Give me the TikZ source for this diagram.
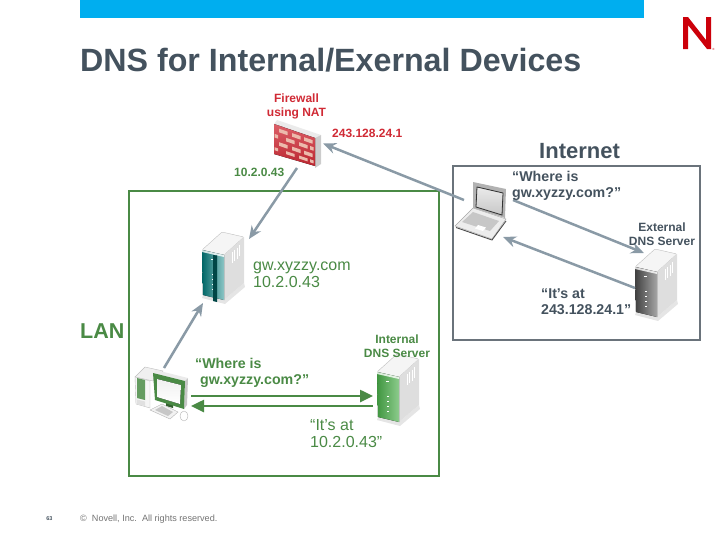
\documentclass[tikz,border=0pt]{standalone}
\usepackage{fontspec}
\setmainfont{Liberation Sans}
\usetikzlibrary{arrows.meta}
\definecolor{novell-blue}{RGB}{0,174,239}
\definecolor{novell-red}{RGB}{204,0,10}
\definecolor{slate}{RGB}{68,82,94}
\definecolor{lan-green}{RGB}{74,138,69}
\definecolor{wall-red}{RGB}{208,42,53}
\definecolor{link-gray}{RGB}{138,154,166}
\definecolor{box-gray}{RGB}{106,115,123}
\definecolor{brick}{RGB}{236,186,172}

\tikzset{
  iconbox/.style={inner sep=0pt, outer sep=0pt},
  label/.style={inner sep=0pt, anchor=west, align=left},
  tag/.style={inner sep=0pt, align=center, font=\fontsize{12}{14}\selectfont\bfseries},
  quote/.style={label, font=\fontsize{14.2}{16}\selectfont\bfseries},
  plain/.style={label, font=\fontsize{16}{17}\selectfont},
  wan/.style={line width=2.5pt, link-gray, -{Stealth[length=13pt,width=11pt]}},
  lanlink/.style={line width=2.5pt, lan-green, -{Triangle[length=13pt,width=12pt]}}
}

% server box, #1 #2 = top left of front face, #3 #4 = front colours
\newcommand{\serverbox}[4]{
  \begin{scope}[shift={(#1,#2)}]
    \fill[black!10] (1,45) -- (22,50) -- (42,33) -- (43,37) -- (23,54) -- (0,48) -- cycle;
    \fill[black!4, draw=black!25, line width=.4pt, rounded corners=1pt] (0,0) -- (20,-18) -- (42,-13) -- (22,5) -- cycle;
    \fill[black!13] (22,5) -- (42,-13) -- (42,33) -- (22,50) -- cycle;
    \foreach \s in {0,2.5,5,7.5}
      \draw[white, line width=1pt] ({30+\s},{2-\s*0.9}) -- ++(0,11);
    \fill[left color=#3, right color=#4] (0,0) -- (22,5) -- (22,50) -- (1,45) -- cycle;
    \fill[white, opacity=.8] (0,0) -- (22,5) -- (22,7) -- (0,2) -- cycle;
    \foreach \s in {24,29,34,39}
      \fill[white] (10,\s) rectangle (12,{\s+1});
    \fill[white] (9,9) rectangle (12,10.2);
  \end{scope}
}

\begin{document}
\begin{tikzpicture}[x=1pt, y=-1pt]
  \useasboundingbox (0,0) rectangle (728,546);

  % header
  \fill[novell-blue] (80,0) rectangle (644,18);
  \fill[novell-red] (683,17) -- (688,17) -- (706,40) -- (706,17) -- (711,17) -- (711,49)
    -- (707,49) -- (688,25) -- (688,49) -- (683,49) -- cycle;
  \node[inner sep=0pt, novell-red, font=\fontsize{3}{3}\selectfont] (reg) at (713.5,49.5) {®};
  \node[label, slate, font=\fontsize{32.2}{34}\selectfont\bfseries] (title) at (80,60) {DNS for Internal/Exernal Devices};

  % network boxes
  \draw[line width=2pt, lan-green] (129,191) rectangle (439,476);
  \draw[line width=2pt, box-gray] (453,166) rectangle (700,340);
  \node[label, slate, font=\fontsize{22}{24}\selectfont\bfseries] (internet) at (539,151) {Internet};
  \node[label, lan-green, font=\fontsize{21.5}{24}\selectfont\bfseries] (lan) at (80,331) {LAN};

  % firewall
  \fill[black!8] (274,124) -- (277,120) -- (321,135) -- (315,138) -- cycle;
  \fill[black!20] (315,138) -- (321,135) -- (321,164) -- (315,168) -- cycle;
  \fill[top color=wall-red!75!white, bottom color=wall-red!90!black] (274,124) -- (315,138) -- (315,166) -- (274,154) -- cycle;
  \begin{scope}[shift={(274,124)}, yslant=-0.34]
    \foreach \b in {5,18,30} {
      \fill[brick] (\b,3) rectangle ++(8.5,3.6);
      \fill[brick] (\b,16.5) rectangle ++(8.5,3.6);
    }
    \foreach \b in {0.5,12,25,36} {
      \fill[brick] (\b,9.7) rectangle ++({\b==0.5 || \b==36 ? 3.5 : 8.5},3.6);
      \fill[brick] (\b,23) rectangle ++({\b==0.5 || \b==36 ? 3.5 : 8.5},3);
    }
  \end{scope}
  \node[iconbox, minimum width=52pt, minimum height=49pt] (fw) at (297,143.5) {};

  % gateway server
  \serverbox{202}{250}{teal!80!black}{teal!45!white}
  \fill[teal!55!black] (213,255) -- (217,255.5) -- (217,302) -- (213,301) -- cycle;
  \node[iconbox, minimum width=46pt, minimum height=64pt] (gw) at (226,271) {};

  % internal dns server
  \serverbox{377}{372}{green!45!black!75}{green!55!black!45}
  \node[iconbox, minimum width=43pt, minimum height=62pt] (dnsint) at (394.5,389) {};

  % external dns server
  \serverbox{635}{267}{black!75}{black!35}
  \node[iconbox, minimum width=42pt, minimum height=70pt] (dnsext) at (656,288) {};

  % desktop pc
  \fill[black!6, draw=black!25, line width=.4pt] (135,377) -- (145,367) -- (163,371) -- (153,381) -- cycle;
  \fill[black!4, draw=black!25, line width=.4pt] (135,377) -- (150,381) -- (150,408) -- (136,404) -- cycle;
  \fill[lan-green!85] (137,378) -- (145,380) -- (145,400) -- (137,398) -- cycle;
  \fill[black!12] (137,399.5) -- (145,401.5) -- (145,406) -- (137,404) -- cycle;
  \fill[lan-green!70!black] (166,400) -- (173,402) -- (173,408) -- (166,406) -- cycle;
  \fill[black!8] (153,373) -- (156,370) -- (188,378) -- (185,381) -- cycle;
  \fill[black!22] (185,381) -- (188,378) -- (187,405) -- (184,409) -- cycle;
  \fill[lan-green] (153,373) -- (185,381) -- (184,409) -- (155,400) -- cycle;
  \fill[top color=black!6, bottom color=white] (157,379) -- (181,385) -- (180,404) -- (157,397) -- cycle;
  \fill[black!5, draw=black!30, line width=.4pt] (150,410) -- (162,404) -- (178,412) -- (170,419) -- cycle;
  \fill[black!22] (155,410) -- (162,406) -- (173,412) -- (168,416) -- cycle;
  \fill[white, draw=black!30, line width=.4pt] (184,416) ellipse (4pt and 5pt);
  \node[iconbox, minimum width=54pt, minimum height=52pt] (pc) at (164,394) {};

  % laptop
  \fill[black!30] (473,182) -- (506,189) -- (505,218) -- (473,208) -- cycle;
  \fill[top color=black!8, bottom color=black!22, draw=black!80, line width=.8pt] (477,187) -- (503,193) -- (502,215) -- (476,207) -- cycle;
  \fill[black!7, draw=black!35, line width=.4pt] (473,208) -- (506,219) -- (492,239) -- (455,226) -- cycle;
  \fill[black!22] (473,212) -- (499,221) -- (490,231) -- (462,222) -- cycle;
  \fill[white] (478,225) -- (486,227.5) -- (483,231) -- (475,228.5) -- cycle;
  \draw[black!70, line width=.9pt] (456,227.5) -- (492,240) -- (506,221);
  \node[iconbox, minimum width=49pt, minimum height=37pt] (laptop) at (488.5,218.5) {};

  % traffic
  \draw[wan] (laptop.north west) -- (fw.east);
  \draw[wan] (fw.south) -- (gw.north east);
  \draw[wan] (pc.north) -- (gw.south west);
  \draw[wan] (laptop.north east) -- ([xshift=9pt]dnsext.north west);
  \draw[wan] (dnsext.west) -- ([xshift=-10pt]laptop.south east);
  \draw[lanlink] ([yshift=-2pt]pc.east) -- ([yshift=-7pt]dnsint.west);
  \draw[lanlink] ([yshift=-17pt]dnsint.west) -- ([yshift=-12pt]pc.east);

  % labels
  \node[tag, wall-red] (fwname) at (296.5,106) {Firewall\\using NAT};
  \node[label, wall-red, font=\fontsize{12}{13}\selectfont\bfseries] (fwout) at (332,133) {243.128.24.1};
  \node[label, lan-green, font=\fontsize{12}{13}\selectfont\bfseries] (fwin) at (234,172) {10.2.0.43};
  \node[plain, lan-green] (gwaddr) at (253,275) {gw.xyzzy.com\\10.2.0.43};
  \node[tag, lan-green] (dnsintname) at (397,346) {Internal\\DNS Server};
  \node[quote, lan-green] (lanask) at (195,373) {“Where is\\\hspace*{5pt}gw.xyzzy.com?”};
  \node[plain, lan-green] (lanreply) at (310,434) {“It’s at\\10.2.0.43”};
  \node[tag, slate] (dnsextname) at (662,234) {External\\DNS Server};
  \node[quote, slate] (wanask) at (512,186) {“Where is\\gw.xyzzy.com?”};
  \node[quote, slate] (wanreply) at (541,302) {“It’s at\\243.128.24.1”};

  % footer
  \node[inner sep=0pt, slate, font=\fontsize{5.5}{6}\selectfont\bfseries] (page) at (49.5,519) {63};
  \node[label, black!55, font=\fontsize{9.1}{11}\selectfont] (copyright) at (80,519) {©\ \ Novell, Inc.\ \ All rights reserved.};
\end{tikzpicture}
\end{document}
